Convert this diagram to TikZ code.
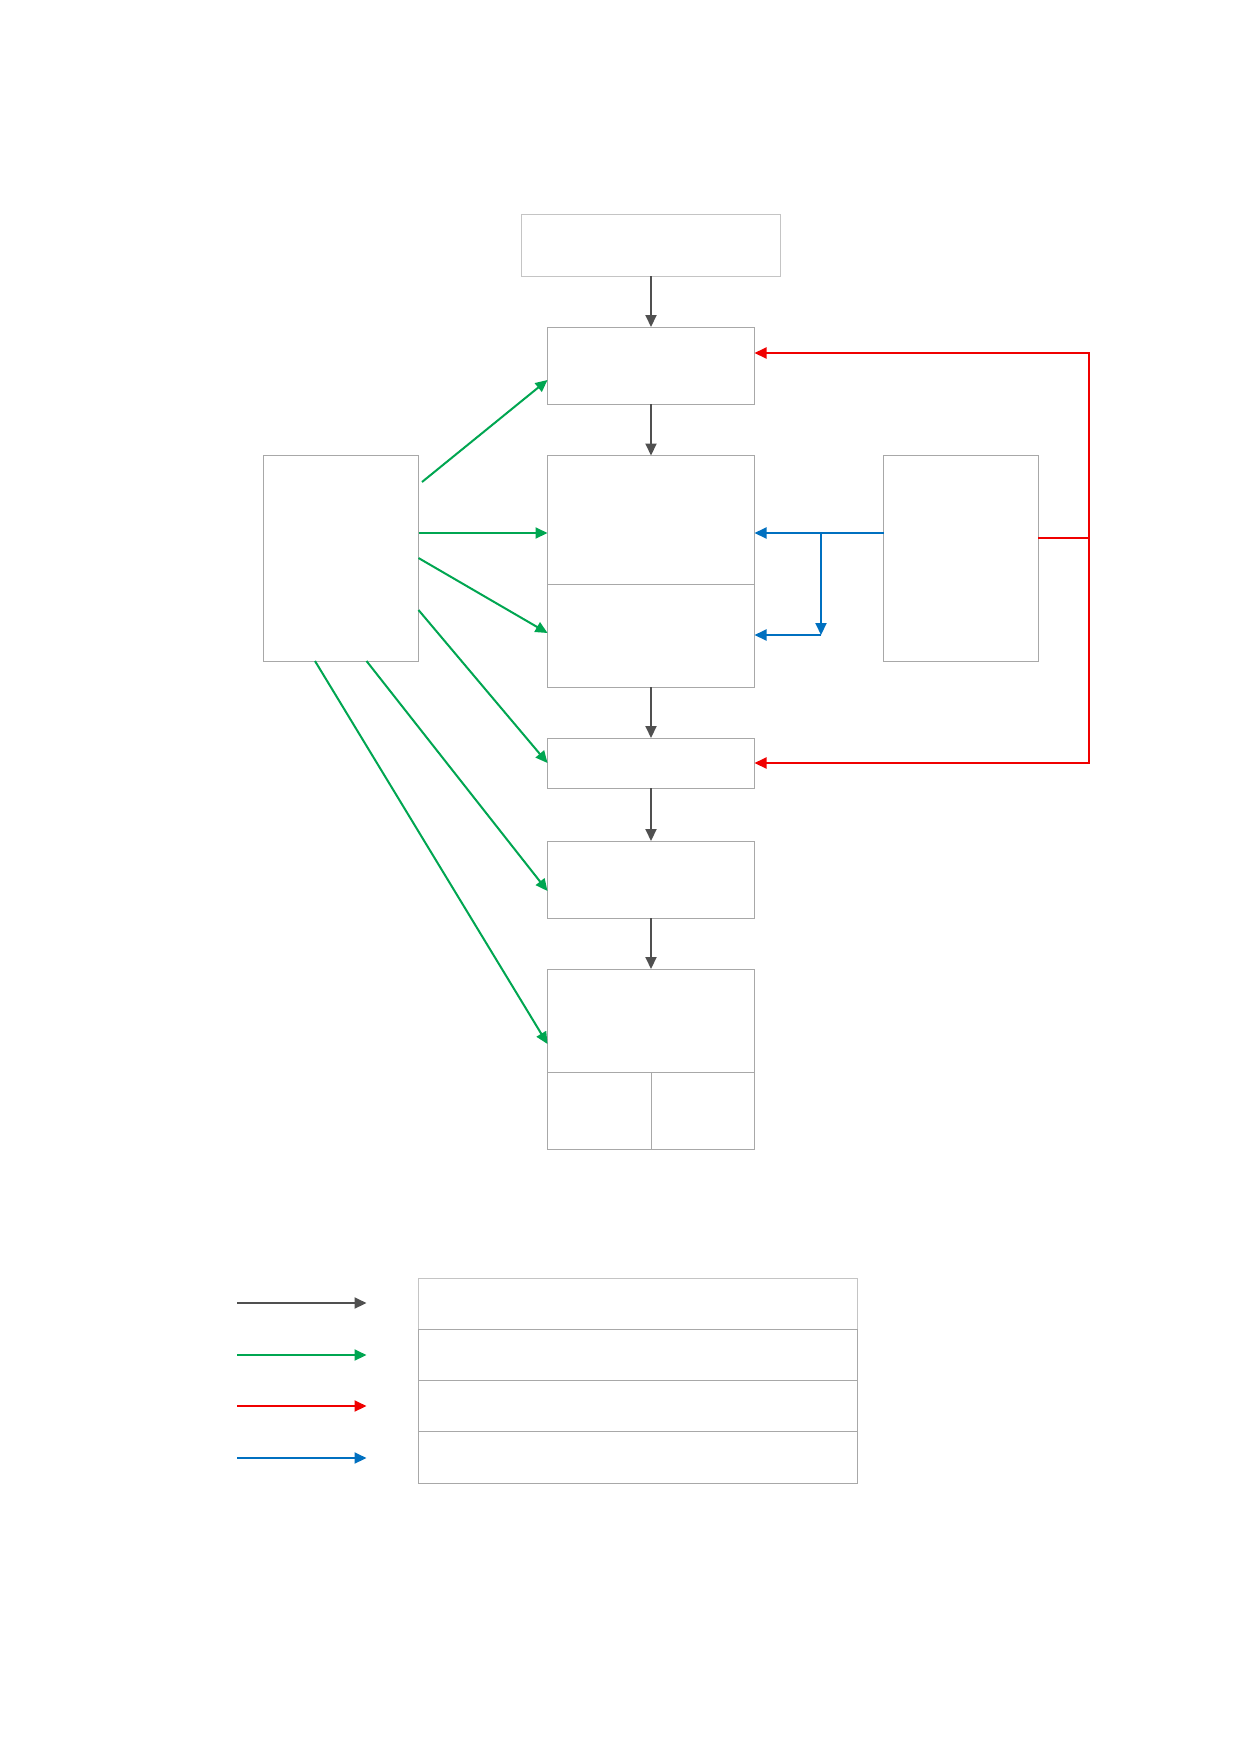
\documentclass[tikz,border=0pt]{standalone}
\usetikzlibrary{arrows.meta,calc}
\definecolor{boxgray}{HTML}{A8A8A8}
\definecolor{lightgray2}{HTML}{C4C4C4}
\definecolor{arrgray}{HTML}{505050}
\definecolor{arrgreen}{HTML}{00A651}
\definecolor{arrred}{HTML}{F00000}
\definecolor{arrblue}{HTML}{0070C0}
\tikzset{
  bx/.style={draw=boxgray, line width=1pt, inner sep=0pt, outer sep=0pt, anchor=north west, fill=white},
  conn/.style={line width=2pt, -{Triangle[length=12pt,width=11pt]}},
  gconn/.style={conn, draw=arrgray, color=arrgray},
  grconn/.style={conn, draw=arrgreen, color=arrgreen},
  rconn/.style={conn, draw=arrred, color=arrred},
  bconn/.style={conn, draw=arrblue, color=arrblue},
  rline/.style={line width=2pt, draw=arrred},
}
\begin{document}
\begin{tikzpicture}[x=1pt,y=-1pt]
\useasboundingbox[fill=white] (0,0) rectangle (1240,1754);
% boxes
\node[bx, draw=lightgray2, minimum width=259pt, minimum height=62pt] (top) at (521.5,214) {};
\node[bx, minimum width=207pt, minimum height=77pt] (b2) at (547.5,327) {};
\node[bx, minimum width=207pt, minimum height=128.5pt] (b3a) at (547.5,455.5) {};
\node[bx, minimum width=207pt, minimum height=103pt] (b3b) at (547.5,584) {};
\node[bx, minimum width=155.5pt, minimum height=205.5pt] (left) at (263,455.5) {};
\node[bx, minimum width=154.5pt, minimum height=205.5pt] (right) at (883.5,455.5) {};
\node[bx, minimum width=207pt, minimum height=50pt] (b4) at (547.5,738) {};
\node[bx, minimum width=207pt, minimum height=77pt] (b5) at (547.5,841) {};
\node[bx, minimum width=207pt, minimum height=103pt] (b6a) at (547.5,969) {};
\node[bx, minimum width=103.5pt, minimum height=77pt] (b6b) at (547.5,1072) {};
\node[bx, minimum width=103.5pt, minimum height=77pt] (b6c) at (651,1072) {};
% legend table
\node[bx, draw=lightgray2, minimum width=439pt, minimum height=51.3pt] (lg1) at (418.5,1278) {};
\node[bx, minimum width=439pt, minimum height=51.3pt] (lg2) at (418.5,1329.3) {};
\node[bx, minimum width=439pt, minimum height=51.3pt] (lg3) at (418.5,1380.6) {};
\node[bx, minimum width=439pt, minimum height=51.3pt] (lg4) at (418.5,1431.9) {};
% gray flow
\draw[gconn] (top.south) -- (b2.north);
\draw[gconn] (b2.south) -- (b3a.north);
\draw[gconn] (b3b.south) -- (b4.north);
\draw[gconn] (b4.south) -- (b5.north);
\draw[gconn] (b5.south) -- (b6a.north);
% green
\draw[grconn] ($(left.north east)+(3.5,26.5)$) -- ($(b2.north west)+(0,53)$);
\draw[grconn] ($(left.north east)+(0,77.5)$) -- ($(b3a.north west)+(0,77.5)$);
\draw[grconn] ($(left.north east)+(0,102.5)$) -- ($(b3b.north west)+(0,49)$);
\draw[grconn] ($(left.north east)+(0,154.5)$) -- ($(b4.north west)+(0,25)$);
\draw[grconn] ($(left.south west)+(103.5,0)$) -- ($(b5.north west)+(0,50)$);
\draw[grconn] ($(left.south west)+(52,0)$) -- ($(b6a.north west)+(0,75)$);
% red feedback
\coordinate (rj) at (1089,538);
\coordinate (rt) at (1089,353);
\coordinate (rb) at (1089,763);
\draw[rline] (rj -| right.east) -- (rj);
\draw[rconn] (rb) -- (rt) -- (rt -| b2.east);
\draw[rconn] (rt) -- (rb) -- (rb -| b4.east);
% blue
\coordinate (bj) at (821,533);
\coordinate (bk) at (821,635);
\draw[bconn] (bj -| right.west) -- (bj -| b3a.east);
\draw[bconn] (bj) -- (bk);
\draw[bconn] (bk) -- (bk -| b3b.east);
% legend arrows
\coordinate (l1s) at (237,1303); \coordinate (l1e) at (366.5,1303);
\coordinate (l2s) at (237,1355); \coordinate (l2e) at (366.5,1355);
\coordinate (l3s) at (237,1406); \coordinate (l3e) at (366.5,1406);
\coordinate (l4s) at (237,1458); \coordinate (l4e) at (366.5,1458);
\draw[gconn] (l1s) -- (l1e);
\draw[grconn] (l2s) -- (l2e);
\draw[rconn] (l3s) -- (l3e);
\draw[bconn] (l4s) -- (l4e);
\end{tikzpicture}
\end{document}
